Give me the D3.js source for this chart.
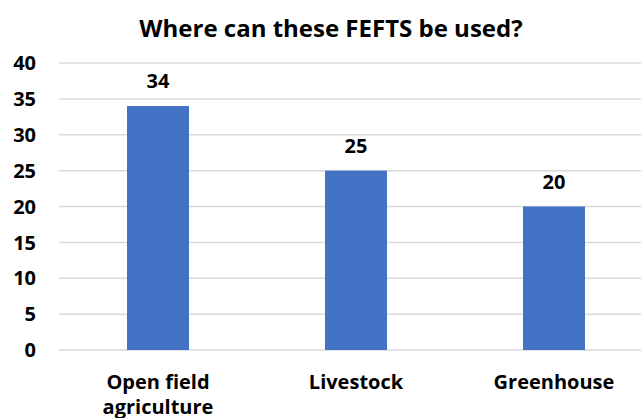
<!DOCTYPE html>
<html>
<head>
<meta charset="utf-8">
<script src="https://cdn.jsdelivr.net/npm/d3@7"></script>
<style>
  html, body { margin: 0; padding: 0; background: #fff; }
  svg text { font-family: "Open Sans", Lato, sans-serif; font-weight: bold; fill: #000; }
</style>
</head>
<body>
<div id="chart"></div>
<script>
// chart data
var categories = ["Open field agriculture", "Livestock", "Greenhouse"];
var labelLines = [["Open field", "agriculture"], ["Livestock"], ["Greenhouse"]];
var values = [34, 25, 20];
var yTicks = [0, 5, 10, 15, 20, 25, 30, 35, 40];
var title = "Where can these FEFTS be used?";

var W = 641, H = 418;
var svg = d3.select("#chart").append("svg")
	.attr("width", W)
	.attr("height", H);

// plot area runs past the right edge, like the source
var x = d3.scaleBand()
	.domain(categories)
	.range([59, 653])
	.paddingInner(0.687)
	.paddingOuter(0.3435);

var y = d3.scaleLinear()
	.domain([0, 40])
	.range([350, 63]);

svg.append("text")
	.attr("x", 331)
	.attr("y", 37)
	.attr("text-anchor", "middle")
	.style("font-size", "24px")
	.text(title);

// gridlines
svg.append("g")
	.selectAll("line")
	.data(yTicks)
	.enter()
	.append("line")
	.attr("x1", 59)
	.attr("x2", W)
	.attr("y1", function(d){ return y(d); })
	.attr("y2", function(d){ return y(d); })
	.attr("stroke", "#d9d9d9")
	.attr("stroke-width", 1.5);

// y tick labels
svg.append("g")
	.selectAll("text")
	.data(yTicks)
	.enter()
	.append("text")
	.attr("x", 36)
	.attr("y", function(d){ return y(d); })
	.attr("dy", "0.36em")
	.attr("text-anchor", "end")
	.style("font-size", "20px")
	.text(function(d){ return d; });

// bars
svg.append("g")
	.selectAll("rect")
	.data(values)
	.enter()
	.append("rect")
	.attr("x", function(d, i){ return x(categories[i]); })
	.attr("y", function(d){ return y(d); })
	.attr("width", x.bandwidth())
	.attr("height", function(d){ return y(0) - y(d); })
	.attr("fill", "#4472c4");

// data labels
svg.append("g")
	.selectAll("text")
	.data(values)
	.enter()
	.append("text")
	.attr("x", function(d, i){ return x(categories[i]) + x.bandwidth() / 2; })
	.attr("y", function(d){ return y(d) - 18; })
	.attr("text-anchor", "middle")
	.style("font-size", "20px")
	.text(function(d){ return d; });

// category labels
var cat = svg.append("g")
	.selectAll("text")
	.data(categories)
	.enter()
	.append("text")
	.attr("x", function(d){ return x(d) + x.bandwidth() / 2; })
	.attr("y", 389)
	.attr("text-anchor", "middle")
	.style("font-size", "20px");

cat.selectAll("tspan")
	.data(function(d, i){ return labelLines[i]; })
	.enter()
	.append("tspan")
	.attr("x", function(){ return d3.select(this.parentNode).attr("x"); })
	.attr("dy", function(d, i){ return i === 0 ? 0 : 25; })
	.text(function(d){ return d; });
</script>
</body>
</html>
